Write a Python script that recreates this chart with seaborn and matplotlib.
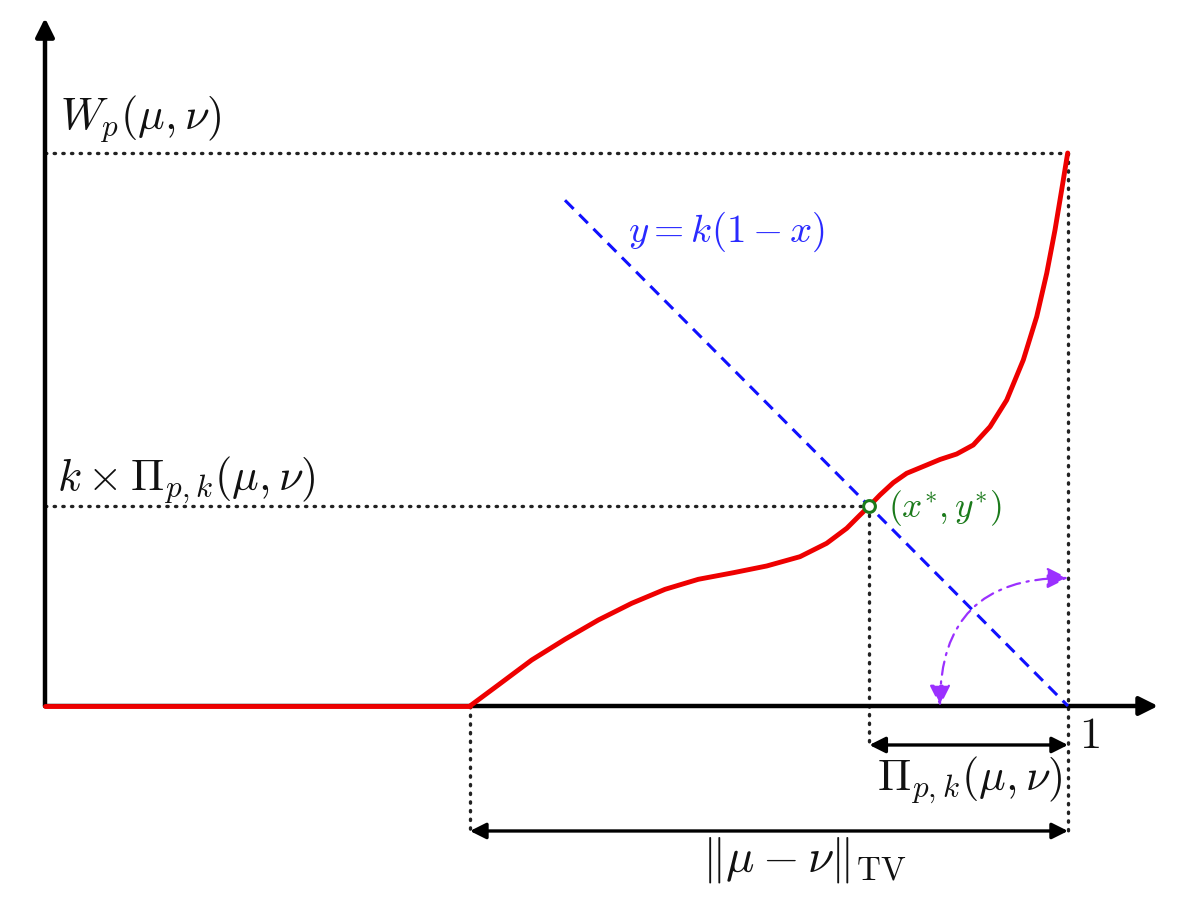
import matplotlib
matplotlib.use("Agg")
import matplotlib.pyplot as plt
import seaborn as sns
import pandas as pd

# ---- data (x in [0,1], y scaled so W_p = 1) ----
flat_x = [0.0, 0.4154]
flat_y = [0.0, 0.0]
curve_x = [0.4154, 0.4431, 0.4758, 0.5083, 0.5409, 0.5735, 0.6061, 0.6386, 0.6728,
           0.7055, 0.7380, 0.7641, 0.7837, 0.7967, 0.8058, 0.8162, 0.8292, 0.8423,
           0.8619, 0.8749, 0.8912, 0.9074, 0.9238, 0.9401, 0.9563, 0.9694, 0.9792,
           0.9873, 0.9938, 0.9997]
curve_y = [0.0, 0.0380, 0.0832, 0.1206, 0.1555, 0.1857, 0.2110, 0.2291, 0.2410,
           0.2532, 0.2700, 0.2942, 0.3213, 0.3454, 0.3617, 0.3816, 0.4038, 0.4208,
           0.4358, 0.4458, 0.4557, 0.4720, 0.5051, 0.5533, 0.6257, 0.7040, 0.7825,
           0.8608, 0.9331, 1.0]
k_slope = 1.86
line_x = [0.5083, 1.0]
x_star, y_star = 0.8058, 0.3617
W_p = 1.0
tv_start = 0.4154
arc_start = (0.8749, 0.0)
arc_end = (1.0, 0.2315)

labels = {
    "W": r"$W_p(\mu,\nu)$",
    "kPi": r"$k\times\Pi_{p,k}(\mu,\nu)$",
    "line": r"$y=k(1-x)$",
    "star": r"$(x^{*},y^{*})$",
    "Pi": r"$\Pi_{p,k}(\mu,\nu)$",
    "TV": r"$\|\mu-\nu\|_{\mathrm{TV}}$",
    "one": r"$1$",
}

sns.set_theme(style="white")
plt.rcParams["mathtext.fontset"] = "cm"
plt.rcParams["font.family"] = ["DejaVu Sans"]

fig = plt.figure(figsize=(11.82, 9.02), dpi=100)
ax = fig.add_axes([0, 0, 1, 1])
ax.set_xlim(-45 / 1023, (1182 - 45) / 1023)
ax.set_ylim((706 - 902) / 553, 706 / 553)
ax.axis("off")

dot = dict(color="#222222", lw=2.4, linestyle=(0, (0.4, 2.2)), dash_capstyle="round")

# dotted guides
ax.plot([0, 1], [W_p, W_p], **dot)
ax.plot([0, x_star], [y_star, y_star], **dot)
ax.plot([1, 1], [W_p, -0.2260], **dot)
ax.plot([x_star, x_star], [y_star, -0.070], **dot)
ax.plot([tv_start, tv_start], [0, -0.2260], **dot)

# axes arrows
ax.annotate("", xy=(1.088, 0), xytext=(0, 0),
            arrowprops=dict(arrowstyle="-|>", color="black", lw=3.2,
                            mutation_scale=28, shrinkA=0, shrinkB=0))
ax.annotate("", xy=(0, 1.244), xytext=(0, 0),
            arrowprops=dict(arrowstyle="-|>", color="black", lw=3.2,
                            mutation_scale=28, shrinkA=0, shrinkB=0))

# red curve
df_flat = pd.DataFrame({"x": flat_x, "y": flat_y})
df_curve = pd.DataFrame({"x": curve_x, "y": curve_y})
sns.lineplot(data=df_flat, x="x", y="y", ax=ax, color="#ee0000", lw=3.5,
             sort=False, estimator=None, zorder=5)
sns.lineplot(data=df_curve, x="x", y="y", ax=ax, color="#ee0000", lw=3.5,
             sort=False, estimator=None, zorder=5, solid_joinstyle="round")

# blue dashed line y = k(1-x)
df_line = pd.DataFrame({"x": line_x, "y": [k_slope * (1 - v) for v in line_x]})
sns.lineplot(data=df_line, x="x", y="y", ax=ax, color="#1010ff", lw=2.2,
             linestyle=(0, (4, 2.6)), estimator=None, zorder=4)

# intersection marker
ax.plot([x_star], [y_star], marker="o", ms=8.5, mfc="white", mec="#1b7a1b",
        mew=2.2, zorder=7)

# purple arc with arrows
ax.annotate("", xy=arc_end, xytext=arc_start,
            arrowprops=dict(arrowstyle="<|-|>", color="#9b30ff", lw=1.6,
                            linestyle=(0, (6, 3, 1, 3)),
                            connectionstyle="arc3,rad=-0.5",
                            mutation_scale=32, shrinkA=0, shrinkB=0), zorder=6)

# double arrows
ax.annotate("", xy=(1.0, -0.0705), xytext=(x_star, -0.0705),
            arrowprops=dict(arrowstyle="<|-|>", color="black", lw=2.4,
                            mutation_scale=24, shrinkA=0, shrinkB=0))
ax.annotate("", xy=(1.0, -0.2260), xytext=(tv_start, -0.2260),
            arrowprops=dict(arrowstyle="<|-|>", color="black", lw=2.4,
                            mutation_scale=24, shrinkA=0, shrinkB=0))

# texts
fs = 32
ax.text(0.0147, 1.0615, labels["W"], fontsize=fs, ha="left", va="center", color="#111111")
ax.text(0.0117, 0.4087, labels["kPi"], fontsize=fs, ha="left", va="center", color="#111111")
ax.text(0.6657, 0.8571, labels["line"], fontsize=28, ha="center", va="center", color="#2a2aff")
ax.text(0.8240, 0.3580, labels["star"], fontsize=25.5, ha="left", va="center", color="#1b7a1b")
ax.text(0.9042, -0.1338, labels["Pi"], fontsize=fs, ha="center", va="center", color="#111111")
ax.text(0.7419, -0.2785, labels["TV"], fontsize=34, ha="center", va="center", color="#111111")
ax.text(1.0205, -0.0542, labels["one"], fontsize=fs, ha="center", va="center", color="#111111")

fig.savefig("out.png", dpi=100, facecolor="white")
